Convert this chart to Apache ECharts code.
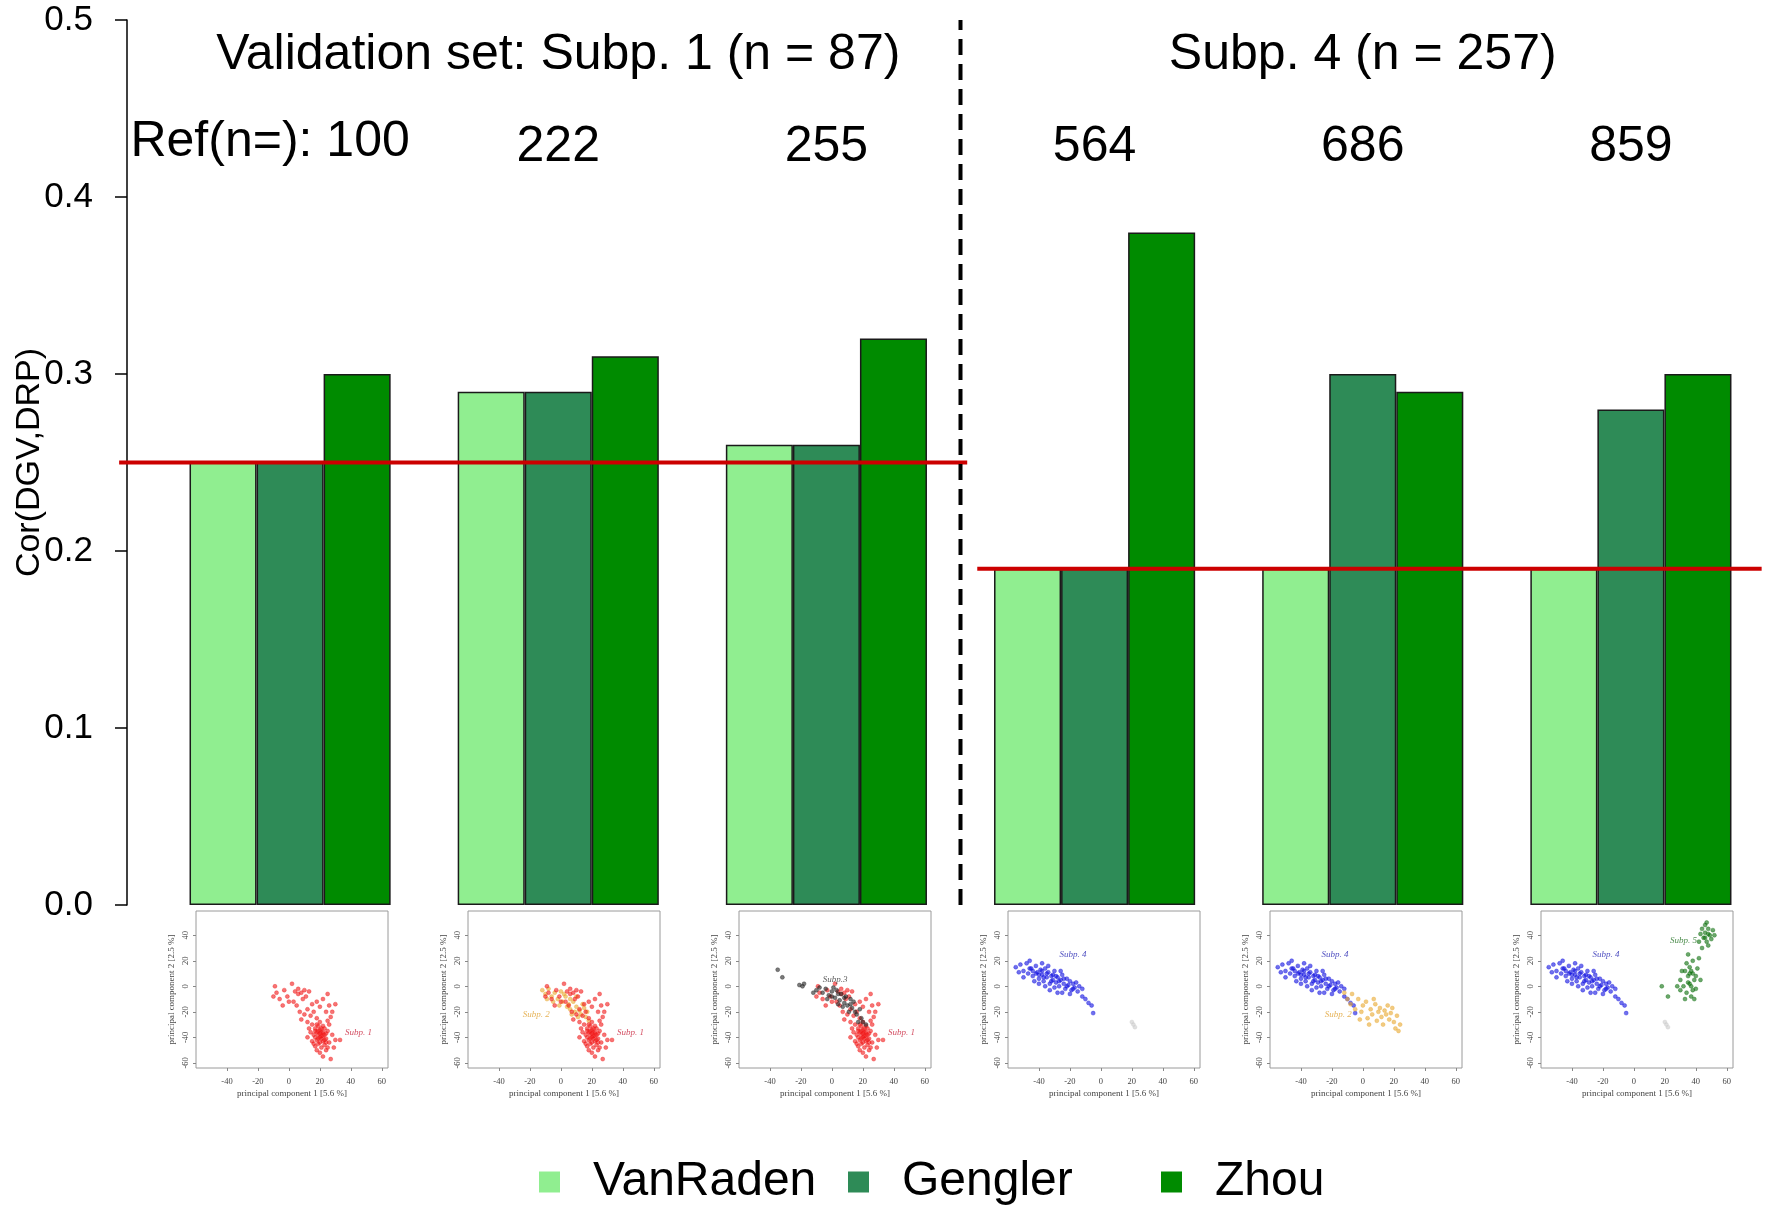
<!DOCTYPE html>
<html>
<head>
<meta charset="utf-8">
<script src="https://cdn.jsdelivr.net/npm/echarts@6/dist/echarts.min.js"></script>
<style>html,body{margin:0;padding:0;background:#fff}#c{width:1767px;height:1206px}</style>
</head>
<body>
<div id="c"></div>
<script>
// ---------- data ----------
const categories = ['100', '222', '255', '564', '686', '859'];
const refLabels = ['Ref(n=): 100', '222', '255', '564', '686', '859'];
const seriesNames = ['VanRaden', 'Gengler', 'Zhou'];
const vanRaden = [0.25, 0.29, 0.26, 0.19, 0.19, 0.19];
const gengler  = [0.25, 0.29, 0.26, 0.19, 0.30, 0.28];
const zhou     = [0.30, 0.31, 0.32, 0.38, 0.29, 0.30];
const panelTitles = ['Validation set: Subp. 1 (n = 87)', 'Subp. 4 (n = 257)'];
const baselineSubp1 = 0.25;
const baselineSubp4 = 0.19;
// bar-unit positions (R barplot coordinates: each group 3 bars + 1 space)
const baselineSubp1X = [-0.05, 12.6];
const baselineSubp4X = [12.75, 24.45];
const dividerX = 12.5;
const yTicks = { min: 0, max: 0.5, interval: 0.1 };

// inset PCA plots
const insetXTicks = [-40, -20, 0, 20, 40, 60];
const insetYTicks = [-60, -40, -20, 0, 20, 40];
const subp1Pts = [[15,-30],[17,-33],[19,-35],[21,-36],[23,-38],[20,-40],[18,-42],[22,-43],[24,-41],[25,-35],[16,-38],[14,-36],[19,-45],[21,-48],[23,-46],[26,-44],[17,-47],[20,-52],[24,-50],[22,-55],[27,-57],[18,-50],[15,-43],[13,-33],[26,-30],[28,-38],[30,-42],[25,-27],[20,-28],[22,-31],[18,-30],[23,-33],[21,-41],[19,-38],[17,-40],[24,-37],[22,-36],[20,-34],[16,-45],[25,-48],[12,-40],[29,-48],[33,-42],[20,-37],[21,-39],[19,-41],[22,-39],[18,-36],[23,-42],[20,-44],[17,-35],[24,-44],[21,-33],[19,-31],
  [-9,0],[-8,-5],[-10,-8],[-6,-10],[-3,-3],[-1,-8],[2,2],[4,-4],[6,-6],[8,-5],[5,-15],[3,-12],[0,-12],[7,-20],[9,-10],[11,-8],[13,-4],[15,-14],[12,-18],[10,-22],[14,-23],[16,-20],[18,-12],[20,-16],[22,-10],[25,-6],[26,-15],[24,-20],[28,-20],[8,-26],[12,-28],[-4,-15],[6,-2],[10,-3],[18,-25],[30,-14],[27,-24]];
const subp2aPts = [[-12,-3],[-10,-6],[-8,-2],[-6,-8],[-4,-5],[-2,-10],[0,-4],[1,-12],[3,-8],[5,-14],[6,-18],[8,-12],[9,-20],[10,-16],[12,-19],[13,-22],[15,-17],[16,-24],[14,-14],[11,-24],[7,-22],[4,-16],[2,-6],[-1,-15],[-5,-12],[17,-20],[18,-27],[6,-10],[10,-8],[-9,-10]];
const subp3Pts = [[-35,13],[-32,7],[-21,1],[-19,0],[-18,2],[-10,-3],[-8,-1],[-6,-5],[-4,-2],[-2,-7],[0,-4],[2,-9],[3,-3],[5,-11],[6,-6],[8,-13],[9,-8],[10,-15],[12,-10],[13,-17],[14,-12],[15,-20],[16,-22],[18,-18],[19,-25],[11,-20],[7,-16],[4,-14],[1,-1],[-3,-10],[20,-28],[17,-28],[22,-30],[-12,-5],[0,-8],[4,-6],[8,-9],[12,-14]];
const subp4Pts = [[-55,15],[-52,17],[-50,12],[-48,18],[-47,10],[-45,14],[-44,8],[-42,16],[-41,11],[-40,6],[-39,13],[-38,9],[-37,4],[-36,14],[-35,7],[-34,11],[-33,2],[-32,8],[-31,5],[-30,12],[-29,3],[-28,7],[-27,0],[-26,5],[-25,9],[-24,2],[-23,-2],[-22,6],[-21,1],[-20,4],[-19,-3],[-18,2],[-17,-1],[-16,3],[-15,-4],[-14,0],[-43,4],[-46,20],[-38,18],[-33,-3],[-28,-5],[-40,2],[-36,0],[-44,12],[-30,-1],[-25,-5],[-12,-8],[-10,-10],[-8,-13],[-6,-15],[-5,-21],[-12,-2],[-20,-6],[-50,7],[-53,11],[-34,16],[-26,12],[-42,10],[-38,12],[-35,10],[-32,4],[-29,8],[-46,14],[-40,9],[-37,7],[-31,9],[-27,4],[-24,6],[-22,0],[-18,-2]];
const subp2bPts = [[-12,-5],[-10,-10],[-8,-14],[-7,-6],[-5,-18],[-3,-10],[-1,-20],[0,-15],[2,-12],[3,-25],[5,-18],[6,-22],[8,-14],[9,-27],[10,-20],[11,-17],[12,-24],[13,-30],[14,-19],[15,-22],[16,-15],[17,-26],[18,-21],[20,-28],[21,-33],[22,-23],[23,-35],[24,-30],[7,-10],[4,-30],[19,-17],[-2,-26]];
const subp5Pts = [[30,5],[32,0],[33,12],[34,-5],[35,8],[36,15],[36,2],[37,-8],[38,10],[38,20],[39,5],[40,-2],[41,14],[42,22],[34,18],[31,12],[33,-10],[35,25],[37,0],[39,-10],[40,8],[43,5],[28,0],[30,-3],[36,10],[37,12],[35,3],[38,-3],[44,30],[42,35],[45,38],[46,42],[47,35],[48,45],[49,40],[50,37],[51,44],[44,45],[46,48],[48,32],[52,40],[43,41],[47,50],[46,38],[48,41],[22,-8],[18,0]];
const faintPts = [[20,-28],[22,-32],[21,-30]];
// in-plot labels: [x, y, text]
const lblSubp1 = [45, -36, 'Subp. 1'];
const lblSubp2a = [-16, -22, 'Subp. 2'];
const lblSubp3 = [2, 5, 'Subp.3'];
const lblSubp4 = [-18, 25, 'Subp. 4'];
const lblSubp2b = [-16, -22, 'Subp. 2'];
const lblSubp5 = [32, 36, 'Subp. 5'];

// ---------- styles / layout ----------
const barColors = ['#90EE90', '#2E8B57', '#008B00'];
const SANS = '"Liberation Sans", Arial, sans-serif';
const SERIF = '"Liberation Serif", "Times New Roman", serif';
const C = { red: '#F01818', orange: '#E8A830', black: '#222222', blue: '#1010E0', green: '#0A6E0A', faint: '#CCCCCC' };
const LC = { red: '#C8203A', orange: '#E0A030', black: '#333333', blue: '#2020B0', green: '#207020' };
const W = 1767;
const MAIN = { left: 156, top: 20, width: 1609, height: 885 };
const unitPx = MAIN.width / 24; // 6 groups x 4 bar widths

const insetLeft = [196, 468, 739, 1008, 1270, 1541];
const insetPanels = [
  { pts: [[subp1Pts, C.red]], labels: [[lblSubp1, LC.red]] },
  { pts: [[subp2aPts, C.orange], [subp1Pts, C.red]], labels: [[lblSubp2a, LC.orange], [lblSubp1, LC.red]] },
  { pts: [[subp1Pts, C.red], [subp3Pts, C.black]], labels: [[lblSubp3, LC.black], [lblSubp1, LC.red]] },
  { pts: [[subp4Pts, C.blue], [faintPts, C.faint]], labels: [[lblSubp4, LC.blue]] },
  { pts: [[subp4Pts, C.blue], [subp2bPts, C.orange]], labels: [[lblSubp4, LC.blue], [lblSubp2b, LC.orange]] },
  { pts: [[subp4Pts, C.blue], [subp5Pts, C.green], [faintPts, C.faint]], labels: [[lblSubp4, LC.blue], [lblSubp5, LC.green]] }
];

const chart = echarts.init(document.getElementById('c'), null, { renderer: 'canvas' });

const grids = [{ left: MAIN.left, top: MAIN.top, width: MAIN.width, height: MAIN.height, containLabel: false, outerBoundsMode: 'none' }];
const xAxes = [{ type: 'category', gridIndex: 0, data: categories, show: false }];
const yAxes = [{
  type: 'value', gridIndex: 0, min: yTicks.min, max: yTicks.max, interval: yTicks.interval,
  offset: 29,
  axisLine: { show: true, onZero: false, lineStyle: { color: '#000', width: 1.5 } },
  axisTick: { show: true, length: 12, lineStyle: { color: '#000', width: 1.5 } },
  axisLabel: { fontSize: 35, fontFamily: SANS, color: '#000', margin: 34, formatter: v => v.toFixed(1) },
  splitLine: { show: false },
  name: 'Cor(DGV,DRP)', nameLocation: 'middle', nameGap: 80, nameMoveOverlap: false,
  nameTextStyle: { fontSize: 34, fontFamily: SANS, color: '#000' }
}];

const series = [vanRaden, gengler, zhou].map((d, k) => ({
  name: seriesNames[k], type: 'bar', xAxisIndex: 0, yAxisIndex: 0,
  data: d, barGap: '0%', barCategoryGap: '25%',
  itemStyle: { color: barColors[k], borderColor: '#1a1a1a', borderWidth: 1.5 },
  z: 2
}));

insetPanels.forEach((p, i) => {
  const g = i + 1;
  grids.push({ left: insetLeft[i], top: 911, width: 192, height: 157, show: true,
    borderColor: '#9a9a9a', borderWidth: 1, backgroundColor: '#fff', containLabel: false, outerBoundsMode: 'none' });
  xAxes.push({
    type: 'value', gridIndex: g, min: -60, max: 64,
    axisLine: { show: false, onZero: false }, splitLine: { show: false },
    axisTick: { show: true, length: 3, customValues: insetXTicks, lineStyle: { color: '#888' } },
    axisLabel: { customValues: insetXTicks, fontSize: 8.5, fontFamily: SERIF, color: '#444', margin: 9 },
    name: 'principal component 1 [5.6 %]', nameLocation: 'middle', nameGap: 21,
    nameTextStyle: { fontSize: 9, fontFamily: SERIF, color: '#444' }
  });
  yAxes.push({
    type: 'value', gridIndex: g, min: -64, max: 59,
    axisLine: { show: false, onZero: false }, splitLine: { show: false },
    axisTick: { show: true, length: 3, customValues: insetYTicks, lineStyle: { color: '#888' } },
    axisLabel: { customValues: insetYTicks, fontSize: 8.5, fontFamily: SERIF, color: '#444', margin: 6, rotate: 90 },
    name: 'principal component 2 [2.5 %]', nameLocation: 'middle', nameGap: 20,
    nameTextStyle: { fontSize: 9, fontFamily: SERIF, color: '#444' }
  });
  p.pts.forEach(([pts, col]) => {
    series.push({ type: 'scatter', xAxisIndex: g, yAxisIndex: g, data: pts, symbolSize: 4, silent: true, z: 3,
      itemStyle: { color: col, opacity: 0.6, borderColor: col, borderWidth: 0.6 } });
  });
  series.push({ type: 'scatter', xAxisIndex: g, yAxisIndex: g, symbolSize: 0, silent: true, z: 4,
    data: p.labels.map(([l, col]) => ({ value: [l[0], l[1]], name: l[2],
      label: { show: true, position: 'inside', formatter: l[2], color: col, fontSize: 9, fontStyle: 'italic', fontFamily: SERIF } })) });
});

// overlay grid spanning the full width, in bar units, for reference lines
const ov = grids.length;
grids.push({ left: 0, top: MAIN.top, width: W, height: MAIN.height, containLabel: false, outerBoundsMode: 'none' });
xAxes.push({ type: 'value', gridIndex: ov, show: false,
  min: 0.5 - MAIN.left / unitPx, max: 0.5 + (W - MAIN.left) / unitPx });
yAxes.push({ type: 'value', gridIndex: ov, show: false, min: yTicks.min, max: yTicks.max });
series.push(
  { type: 'line', xAxisIndex: ov, yAxisIndex: ov, clip: false, symbol: 'none', silent: true, z: 5,
    data: baselineSubp1X.map(x => [x, baselineSubp1]), lineStyle: { color: '#CC0000', width: 4 } },
  { type: 'line', xAxisIndex: ov, yAxisIndex: ov, clip: false, symbol: 'none', silent: true, z: 5,
    data: baselineSubp4X.map(x => [x, baselineSubp4]), lineStyle: { color: '#CC0000', width: 4 } },
  { type: 'line', xAxisIndex: ov, yAxisIndex: ov, clip: false, symbol: 'none', silent: true, z: 5,
    data: [[dividerX, yTicks.min], [dividerX, yTicks.max]], lineStyle: { color: '#000', width: 4, type: [16, 9] } }
);

const legendPos = [539, 848, 1161];
const legends = seriesNames.map((n, k) => ({
  data: [n], left: legendPos[k], top: 1157, padding: 0, orient: 'horizontal',
  icon: 'rect', itemWidth: 21, itemHeight: 21, selectedMode: false,
  itemStyle: { borderWidth: 0 },
  textStyle: { fontSize: 48, fontFamily: SANS, color: '#000', padding: [0, 0, 0, 28], lineHeight: 50 }
}));

chart.setOption({
  animation: false,
  backgroundColor: '#fff',
  grid: grids, xAxis: xAxes, yAxis: yAxes, series: series, legend: legends
});

// text annotations placed from the category scale
const cx = i => chart.convertToPixel({ xAxisIndex: 0 }, i);
const FONT = '50px ' + SANS;
const graphics = [];
graphics.push({ type: 'text', x: cx(1), y: 55, style: { text: panelTitles[0], font: FONT, fill: '#000', align: 'center', verticalAlign: 'middle' } });
graphics.push({ type: 'text', x: cx(4), y: 55, style: { text: panelTitles[1], font: FONT, fill: '#000', align: 'center', verticalAlign: 'middle' } });
refLabels.forEach((t, i) => {
  graphics.push({ type: 'text', x: i === 0 ? cx(i) - 20 : cx(i), y: i === 0 ? 142 : 147,
    style: { text: t, font: FONT, fill: '#000', align: 'center', verticalAlign: 'middle' } });
});
chart.setOption({ graphic: graphics });
</script>
</body>
</html>
